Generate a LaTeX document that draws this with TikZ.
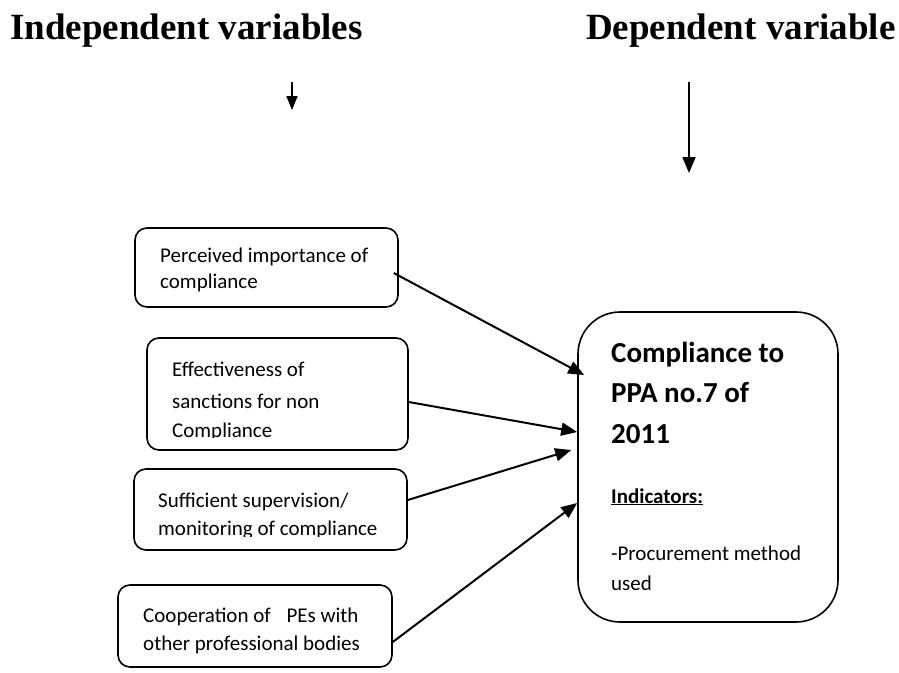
\documentclass[tikz,border=0pt]{standalone}
\usepackage{fontspec}
\setmainfont{Liberation Serif}
\newfontfamily\calibrifont{Carlito}
\usetikzlibrary{arrows.meta}
\begin{document}
\begin{tikzpicture}[x=1pt,y=-1pt,
  box/.style={draw=black, line width=1.6pt, rounded corners=12pt, inner sep=0pt, minimum width=#1},
  bigbox/.style={draw=black, line width=1.6pt, rounded corners=42pt, inner sep=0pt},
  txt/.style={anchor=base west, inner sep=0pt, font=\calibrifont\fontsize{21}{25}\selectfont},
  bigtxt/.style={anchor=base west, inner sep=0pt, font=\calibrifont\bfseries\fontsize{29}{34}\selectfont},
  title/.style={anchor=base west, inner sep=0pt, font=\bfseries\fontsize{37}{42}\selectfont},
  link/.style={line width=2pt, -{Triangle[length=16pt,width=13pt]}},
  tarrow/.style={line width=2pt, -{Triangle[length=14pt,width=11pt]}}
]
\useasboundingbox[fill=white] (0,0) rectangle (899,672);

% titles
\node[title] (t1) at (10,39) {Independent variables};
\node[title] (t2) at (586,39) {Dependent variable};
\coordinate (a1s) at (292,82);
\coordinate (a1e) at (292,110);
\coordinate (a2s) at (689,82);
\coordinate (a2e) at (689,173);
\draw[tarrow] (a1s) -- (a1e);
\draw[line width=2pt, -{Triangle[length=16pt,width=13pt]}] (a2s) -- (a2e);

% boxes
\node[box=263pt, minimum height=79pt] (b1) at (266.5,267.5) {};
\node[box=261pt, minimum height=112pt] (b2) at (277.5,394) {};
\node[box=273pt, minimum height=81pt] (b3) at (270.5,509.5) {};
\node[box=274pt, minimum height=82pt] (b4) at (255,626) {};
\node[bigbox, minimum width=260pt, minimum height=310pt] (big) at (708,467) {};

% box texts
\node[txt] (b1l1) at (160,262) {Perceived importance of};
\node[txt] (b1l2) at (160,288) {compliance};

\node[txt] (b2l1) at (172,376) {Effectiveness of};
\node[txt] (b2l2) at (172,408) {sanctions for non};
\begin{scope}
\clip (150,415) rectangle (405,437);
\node[txt] (b2l3) at (172,437) {Compliance};
\end{scope}

\node[txt] (b3l1) at (158,507) {Sufficient supervision/};
\begin{scope}
\clip (140,512) rectangle (405,536);
\node[txt] (b3l2) at (158,535) {monitoring of compliance};
\end{scope}

\node[txt] (b4l1) at (143,622) {Cooperation of\hspace{0.75em}PEs with};
\node[txt] (b4l2) at (143,650) {other professional bodies};

\node[bigtxt] (c1) at (611,362) {Compliance to};
\node[bigtxt] (c2) at (611,402) {PPA no.7 of};
\node[bigtxt] (c3) at (611,443) {2011};
\node[txt, font=\calibrifont\bfseries\fontsize{21}{25}\selectfont] (c4) at (611,503) {\underline{Indicators:}};
\node[txt] (c5) at (611,560) {-Procurement method};
\node[txt] (c6) at (611,590) {used};

% connectors
\draw[link] ([xshift=-5pt,yshift=-5.5pt]b1.east) -- ([xshift=7pt,yshift=92pt]big.west);
\draw[link] ([yshift=-8pt]b2.east) -- ([yshift=35pt]big.west);
\draw[link] ([yshift=9.5pt]b3.east) -- ([xshift=-6pt,yshift=17pt]big.west);
\draw[link] ([yshift=-16pt]b4.east) -- ([yshift=-36pt]big.west);
\end{tikzpicture}
\end{document}
